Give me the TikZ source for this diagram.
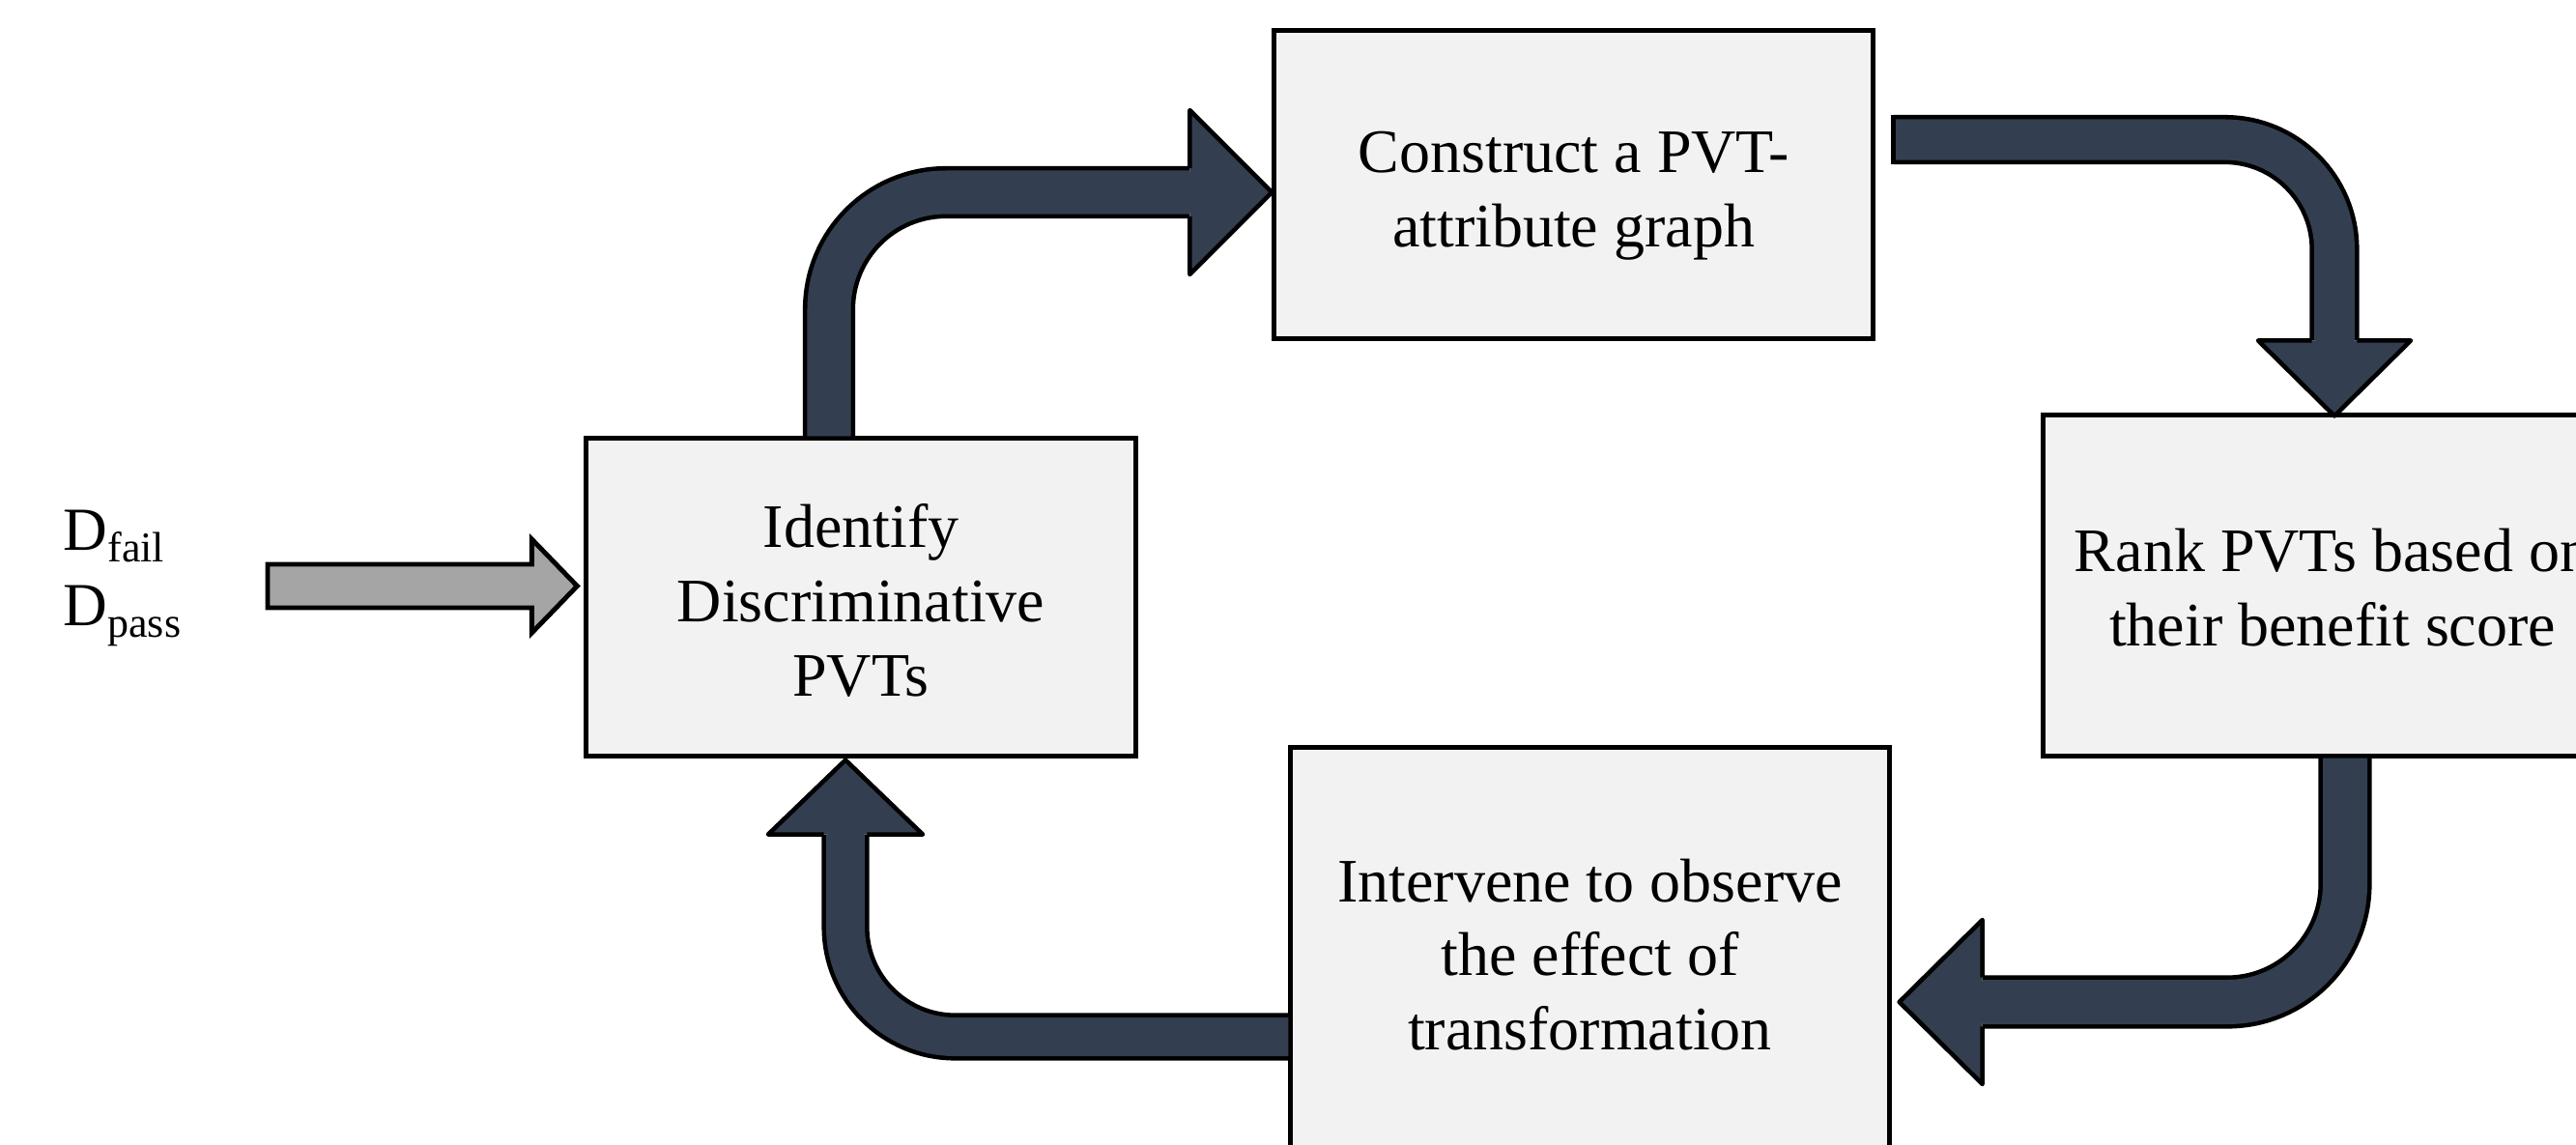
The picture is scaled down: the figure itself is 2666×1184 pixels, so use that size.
\documentclass[tikz,border=0pt]{standalone}
\usepackage{fontspec}
\setmainfont{Liberation Serif}
\usetikzlibrary{calc}
\definecolor{boxfill}{HTML}{F2F2F2}
\definecolor{arrowfill}{HTML}{333F50}
\definecolor{inputfill}{HTML}{A5A5A5}
\newcommand{\boxlines}[2][0pt]{\raisebox{#1}[\height][\depth]{\begin{tabular}{@{}c@{}}#2\end{tabular}}}
\begin{document}
\begin{tikzpicture}[x=0.01cm,y=-0.01cm,
  box/.style={draw=black, line width=1.4pt, fill=boxfill, inner sep=0pt, align=center, font=\fontsize{18.2}{21.8}\selectfont},
  shaft/.style 2 args={draw=black, line width=1.3pt, double=arrowfill, double distance=#1, rounded corners=#2, line cap=butt},
  headline/.style={draw=black, line width=1.3pt, line join=round},
  inarrow/.style={draw=black, fill=inputfill, line width=1.4pt, line join=miter},
  lbl/.style={inner sep=0pt, font=\fontsize{18}{21.8}\selectfont}]
\useasboundingbox (0,0) rectangle (2666,1184);
\clip (0,0) rectangle (2666,1184);
\fill[white] (0,0) rectangle (2666,1184);

% boxes
\node[box, minimum width=5.68cm, minimum height=3.28cm] (A) at (891,618) {\boxlines[-2.9pt]{Identify\\Discriminative\\PVTs}};
\node[box, minimum width=6.19cm, minimum height=3.18cm] (B) at (1628.5,191) {\boxlines[-3.1pt]{Construct a PVT-\\attribute graph}};
\node[box, minimum width=5.98cm, minimum height=3.52cm] (C) at (2414,606) {\boxlines[-2.4pt]{Rank PVTs based on\\their benefit score}};
\node[box, minimum width=6.19cm, minimum height=4.28cm] (D) at (1645.5,988) {\boxlines[-1.8pt]{Intervene to observe\\the effect of\\transformation}};

% input labels
\node[lbl, anchor=base west] (Lf) at (65,569) {D\raisebox{-3.6pt}{\fontsize{12.5}{13}\selectfont fail}};
\node[lbl, anchor=base west] (Lp) at (65,647) {D\raisebox{-3.6pt}{\fontsize{12.5}{13}\selectfont pass}};

% input arrow
\coordinate (inS) at (277,606.5);
\coordinate (inT) at ($(A.west)+(-7,-11.5)$);
\draw[inarrow] ($(inS)+(0,-22.5)$) -- ($(inT)+(-47,-22.5)$) -- ($(inT)+(-47,-48.5)$) -- (inT) -- ($(inT)+(-47,48.5)$) -- ($(inT)+(-47,22.5)$) -- ($(inS)+(0,22.5)$) -- cycle;

% arrow A -> B
\coordinate (a1s) at ($(A.north)+(-33,0)$);
\coordinate (a1t) at ($(B.west)+(0,8)$);
\coordinate (a1b) at ($(a1t)+(-85,0)$);
\draw[shaft={0.45cm}{1.21cm}] (a1s) |- (a1b);
\fill[arrowfill] ($(a1b)+(0,-85)$) -- (a1t) -- ($(a1b)+(0,85)$) -- cycle;
\fill[arrowfill] ($(a1b)+(-4,-21)$) rectangle ($(a1b)+(4,21)$);
\draw[headline] ($(a1b)+(0,-25)$) -- ($(a1b)+(0,-85)$) -- (a1t) -- ($(a1b)+(0,85)$) -- ($(a1b)+(0,25)$);

% arrow B -> C
\coordinate (a2s) at ($(B.east)+(19,-46.5)$);
\coordinate (a2t) at ($(C.north)+(2,3)$);
\coordinate (a2b) at ($(a2t)+(0,-78)$);
\draw[shaft={0.42cm}{1.135cm}] (a2s) -| (a2b);
\draw[line width=1.3pt, line cap=butt] ($(a2s)+(0,-25.6)$) -- ($(a2s)+(0,25.6)$);
\fill[arrowfill] ($(a2b)+(-79,0)$) -- (a2t) -- ($(a2b)+(79,0)$) -- cycle;
\fill[arrowfill] ($(a2b)+(-19.5,-4)$) rectangle ($(a2b)+(19.5,4)$);
\draw[headline] ($(a2b)+(-23.3,0)$) -- ($(a2b)+(-79,0)$) -- (a2t) -- ($(a2b)+(79,0)$) -- ($(a2b)+(23.3,0)$);

% arrow C -> D
\coordinate (a3s) at ($(C.south)+(13,0)$);
\coordinate (a3t) at ($(D.east)+(8,49)$);
\coordinate (a3b) at ($(a3t)+(86,0)$);
\draw[shaft={0.46cm}{1.22cm}] (a3s) |- (a3b);
\fill[arrowfill] ($(a3b)+(0,-85)$) -- (a3t) -- ($(a3b)+(0,85)$) -- cycle;
\fill[arrowfill] ($(a3b)+(-4,-21.5)$) rectangle ($(a3b)+(4,21.5)$);
\draw[headline] ($(a3b)+(0,-25.3)$) -- ($(a3b)+(0,-85)$) -- (a3t) -- ($(a3b)+(0,85)$) -- ($(a3b)+(0,25.3)$);

% arrow D -> A
\coordinate (a4s) at ($(D.west)+(0,85)$);
\coordinate (a4t) at ($(A.south)+(-16,2)$);
\coordinate (a4b) at ($(a4t)+(0,77)$);
\draw[shaft={0.40cm}{1.135cm}] (a4s) -| (a4b);
\fill[arrowfill] ($(a4b)+(-80,0)$) -- (a4t) -- ($(a4b)+(80,0)$) -- cycle;
\fill[arrowfill] ($(a4b)+(-18.5,-4)$) rectangle ($(a4b)+(18.5,4)$);
\draw[headline] ($(a4b)+(-22.3,0)$) -- ($(a4b)+(-80,0)$) -- (a4t) -- ($(a4b)+(80,0)$) -- ($(a4b)+(22.3,0)$);
\end{tikzpicture}
\end{document}
